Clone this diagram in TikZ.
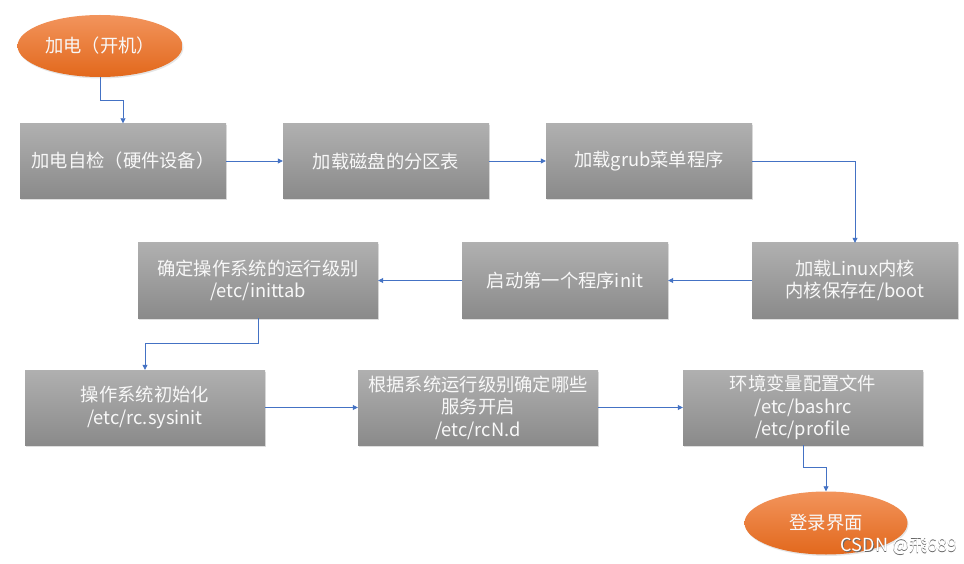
\documentclass[tikz,border=0pt]{standalone}
\usepackage{fontspec}
\setmainfont{Noto Sans CJK SC}
\usetikzlibrary{arrows.meta,shapes.geometric,shadows}
\definecolor{boxtop}{RGB}{176,176,176}
\definecolor{boxbot}{RGB}{138,138,138}
\definecolor{ortop}{RGB}{242,148,92}
\definecolor{orbot}{RGB}{226,104,28}
\definecolor{linkblue}{RGB}{68,114,196}
\definecolor{softwhite}{RGB}{248,248,248}
\tikzset{
  stepbox/.style={rectangle, draw=none, top color=boxtop, bottom color=boxbot,
    text=softwhite, align=center, inner sep=0pt,
    font=\fontsize{18.3}{22.5}\selectfont,
    drop shadow={shadow xshift=1pt, shadow yshift=-1.5pt, opacity=0.25}},
  wide/.style={minimum width=206pt, minimum height=75pt},
  wider/.style={minimum width=240pt, minimum height=75pt},
  terminal/.style={ellipse, draw=none, top color=ortop, bottom color=orbot,
    text=softwhite, inner sep=0pt, font=\fontsize{18.3}{22.5}\selectfont,
    minimum width=165pt, minimum height=62pt,
    drop shadow={shadow xshift=1pt, shadow yshift=-1.5pt, opacity=0.2}},
  conn/.style={draw=linkblue, line width=0.8pt,
    -{Triangle[length=5pt,width=5pt]}}
}
\begin{document}
\begin{tikzpicture}[x=1pt,y=-1pt]
\useasboundingbox[fill=white] (0,0) rectangle (964,564);

\node[terminal] (e1) at (100,46) {加电（开机）};
\node[stepbox,wide] (b1) at (123,161) {加电自检（硬件设备）};
\node[stepbox,wide] (b2) at (386,161) {加载磁盘的分区表};
\node[stepbox,wide] (b3) at (649,161) {加载grub菜单程序};
\node[stepbox,wide] (b4) at (855,280.5) {加载Linux内核\\内核保存在/boot};
\node[stepbox,wide] (b5) at (565,280.5) {启动第一个程序init};
\node[stepbox,wider] (b6) at (258,280.5) {确定操作系统的运行级别\\/etc/inittab};
\node[stepbox,wider] (b7) at (145,407.5) {操作系统初始化\\/etc/rc.sysinit};
\node[stepbox,wider] (b8) at (478,407.5) {根据系统运行级别确定哪些\\服务开启\\/etc/rcN.d};
\node[stepbox,wider] (b9) at (803,407.5) {环境变量配置文件\\/etc/bashrc\\/etc/profile};
\node[terminal,minimum width=163pt,minimum height=63pt] (e2) at (826,523) {登录界面};

\draw[conn] (e1.south) -- ++(0,23) -| (b1.north);
\draw[conn] (b1) -- (b2);
\draw[conn] (b2) -- (b3);
\draw[conn] (b3.east) -| (b4.north);
\draw[conn] (b4) -- (b5);
\draw[conn] (b5) -- (b6);
\draw[conn] (b6.south) -- ++(0,25) -| (b7.north);
\draw[conn] (b7) -- (b8);
\draw[conn] (b8) -- (b9);
\draw[conn] (b9.south) -- ++(0,22) -| (e2.north);

\node[text=gray!80!black, font=\fontsize{18}{20}\selectfont] (wms) at (899.8,546.8) {CSDN @飛689};
\node[text=white, font=\fontsize{18}{20}\selectfont] (wm) at (899,546) {CSDN @飛689};
\end{tikzpicture}
\end{document}
